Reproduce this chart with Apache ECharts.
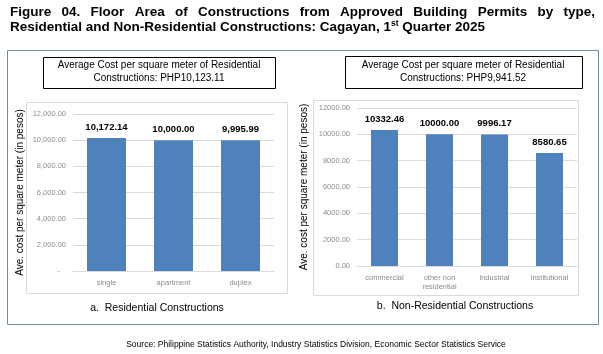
<!DOCTYPE html>
<html>
<head>
<meta charset="utf-8">
<title>Figure 04</title>
<script src="https://cdn.jsdelivr.net/npm/echarts@6/dist/echarts.min.js"></script>
<style>html,body{margin:0;padding:0;background:#fff;}</style>
</head>
<body>
<div id="main" style="width:603px;height:354px;"></div>
<script>
// data
var resCategories = ['single', 'apartment', 'duplex'];
var resValues = [10172.14, 10000.00, 9995.99];
var nonResCategories = ['commercial', 'other non\nresidential', 'industrial', 'institutional'];
var nonResValues = [10332.46, 10000.00, 9996.17, 8580.65];
var yMin = 0, yMax = 12000, yStep = 2000;

var titleLine1 = 'Figure 04. Floor Area of Constructions from Approved Building Permits by type,';
var resBoxText = 'Average Cost per square meter of Residential\nConstructions: PHP10,123.11';
var nonResBoxText = 'Average Cost per square meter of Residential\nConstructions: PHP9,941.52';
var yName = 'Ave. cost per square meter (in pesos)';
var resSub = 'a.  Residential Constructions';
var nonResSub = 'b.  Non-Residential Constructions';
var sourceText = 'Source: Philippine Statistics Authority, Industry Statistics Division, Economic Sector Statistics Service';

var SANS = "'Liberation Sans', Arial, sans-serif";
var GRID = '#d9d9d9';
var BAR = '#4f81bd';

var myChart = echarts.init(document.getElementById('main'));

// justify the first title line like the original (spread words from x0 to x1)
var titleFont = 'bold 13.5px ' + SANS;
function justified(text, x0, x1, y) {
    var ctx = document.createElement('canvas').getContext('2d');
    ctx.font = titleFont;
    var words = text.split(' ');
    var widths = words.map(function (w) { return ctx.measureText(w).width; });
    var total = widths.reduce(function (a, b) { return a + b; }, 0);
    var gap = (x1 - x0 - total) / (words.length - 1);
    var out = [], x = x0;
    words.forEach(function (w, i) {
        out.push({ type: 'text', x: x, y: y, style: { text: w, font: titleFont, fill: '#000', textVerticalAlign: 'middle' } });
        x += widths[i] + gap;
    });
    return out;
}

function box(x0, y0, x1, y1, stroke) {
    return { type: 'rect', shape: { x: x0 + 0.5, y: y0 + 0.5, width: x1 - x0, height: y1 - y0 },
        style: { fill: '#fff', stroke: stroke, lineWidth: 1 }, z: -1 };
}

function yLabelRes(v) {
    if (v === 0) return '-   ';
    return v.toLocaleString('en-US', { minimumFractionDigits: 2, maximumFractionDigits: 2 });
}

var graphics = [].concat(
    [
        box(7, 50, 598, 324, '#6b8ba6'),
        box(26, 102, 287, 293, GRID),
        box(313, 100, 578, 295, GRID),
        box(43, 57, 275, 88, '#000'),
        box(345, 56, 582, 88, '#000'),
        { type: 'text', x: 159, y: 72, style: { text: resBoxText, font: '10px ' + SANS, fill: '#000', align: 'center', verticalAlign: 'middle', lineHeight: 13 } },
        { type: 'text', x: 463, y: 72, style: { text: nonResBoxText, font: '10px ' + SANS, fill: '#000', align: 'center', verticalAlign: 'middle', lineHeight: 13 } },
        { type: 'text', x: 157, y: 308, style: { text: resSub, font: '10.5px ' + SANS, fill: '#000', align: 'center', verticalAlign: 'middle' } },
        { type: 'text', x: 455, y: 306, style: { text: nonResSub, font: '10.5px ' + SANS, fill: '#000', align: 'center', verticalAlign: 'middle' } },
        { type: 'text', x: 316, y: 345, style: { text: sourceText, font: '8.5px ' + SANS, fill: '#000', align: 'center', verticalAlign: 'middle' } },
        { type: 'text', x: 10, y: 27, style: {
            text: '{b|Residential and Non-Residential Constructions: Cagayan, 1}{s|st}{b| Quarter 2025}',
            verticalAlign: 'middle',
            rich: {
                b: { font: titleFont, fill: '#000', lineHeight: 15 },
                s: { font: 'bold 8.5px ' + SANS, fill: '#000', lineHeight: 15, verticalAlign: 'top', padding: [0, 0, 5, 0] }
            }
        } }
    ],
    justified(titleLine1, 10, 595, 12.5)
);

function valueAxis(gridIndex, formatter) {
    return {
        type: 'value', gridIndex: gridIndex, min: yMin, max: yMax, interval: yStep,
        name: yName, nameLocation: 'middle', nameGap: 48, nameRotate: 90,
        nameTextStyle: { fontFamily: SANS, fontSize: 10, color: '#000' },
        axisLine: { show: false }, axisTick: { show: false },
        splitLine: { lineStyle: { color: GRID, width: 1 } },
        axisLabel: { formatter: formatter, fontFamily: SANS, fontSize: 7.5, color: '#8c8c8c', margin: 7 }
    };
}

function catAxis(gridIndex, data) {
    return {
        type: 'category', gridIndex: gridIndex, data: data,
        axisLine: { lineStyle: { color: GRID } }, axisTick: { show: false },
        axisLabel: { fontFamily: SANS, fontSize: 7.5, color: '#8c8c8c', margin: 7, lineHeight: 9, interval: 0 }
    };
}

function labelFmt(dec) {
    return function (p) {
        return dec ? p.value.toLocaleString('en-US', { minimumFractionDigits: 2, maximumFractionDigits: 2 })
                   : p.value.toFixed(2);
    };
}

var dataLabel = { show: true, position: 'top', distance: 6, fontFamily: SANS, fontWeight: 'bold', fontSize: 9.5, color: '#000' };

var option = {
    animation: false,
    backgroundColor: '#fff',
    grid: [
        { left: 73, right: 329, top: 114, bottom: 83 },
        { left: 357, right: 26, top: 108, bottom: 88 }
    ],
    xAxis: [catAxis(0, resCategories), catAxis(1, nonResCategories)],
    yAxis: [valueAxis(0, yLabelRes), valueAxis(1, function (v) { return v.toFixed(2); })],
    series: [
        {
            type: 'bar', xAxisIndex: 0, yAxisIndex: 0, data: resValues, barWidth: 39,
            itemStyle: { color: BAR },
            label: Object.assign({ formatter: labelFmt(true) }, dataLabel)
        },
        {
            type: 'bar', xAxisIndex: 1, yAxisIndex: 1, data: nonResValues, barWidth: 27,
            itemStyle: { color: BAR },
            label: Object.assign({ formatter: labelFmt(false) }, dataLabel)
        }
    ],
    graphic: graphics
};

myChart.setOption(option);
</script>
</body>
</html>
